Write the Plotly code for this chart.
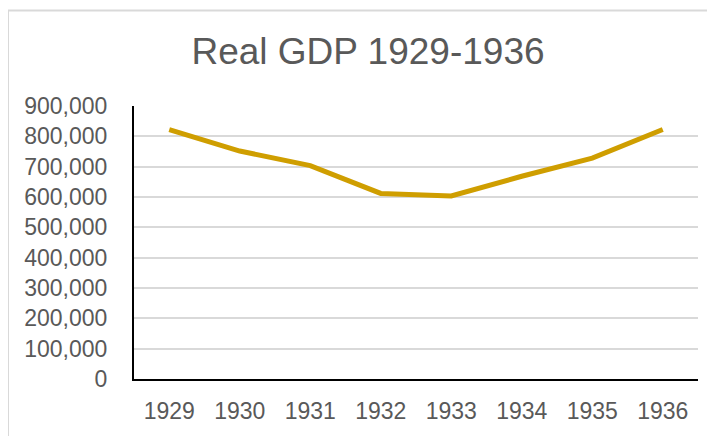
import plotly.graph_objects as go

years = ["1929", "1930", "1931", "1932", "1933", "1934", "1935", "1936"]
real_gdp = [822200, 751500, 703600, 611800, 603300, 668300, 728300, 822400]
y_ticks = [0, 100000, 200000, 300000, 400000, 500000, 600000, 700000, 800000, 900000]

# the page body has an 8px margin: the figure starts at (8, 8)
OX, OY = 8, 8
W, H = 715 - OX, 436 - OY
plot_left, plot_right, plot_top, plot_bottom = 134, 698, 106, 382
L = plot_left - OX
R = (W + OX) - plot_right
T = plot_top - OY
B = (H + OY) - plot_bottom
pw, ph = plot_right - plot_left, plot_bottom - plot_top

def px_x(p):
    return (p - plot_left) / pw

def px_y(p):
    return (plot_bottom - p) / ph

fig = go.Figure()
fig.add_trace(go.Scatter(
    x=years, y=real_gdp, mode="lines",
    line=dict(color="#CF9E00", width=5, shape="linear"),
    hoverinfo="skip", showlegend=False,
))

text_col = "#595959"
fig.update_layout(
    width=W, height=H,
    margin=dict(l=L, r=R, t=T, b=B, pad=0),
    paper_bgcolor="white", plot_bgcolor="white",
    font=dict(family="Liberation Sans, Arial, sans-serif", color=text_col),
    title=dict(text="Real GDP 1929-1936", x=(368 - OX) / W, xanchor="center",
               y=1 - (51 - OY) / H, yanchor="middle",
               font=dict(size=37, color=text_col,
                         family="Liberation Sans, Arial, sans-serif")),
    xaxis=dict(type="category", range=[-0.5, 7.5], showgrid=False,
               showline=True, linecolor="black", linewidth=2,
               ticks="", tickfont=dict(size=23, color=text_col),
               ticklabelstandoff=10, zeroline=False, fixedrange=True),
    yaxis=dict(range=[0, 900000], tickvals=y_ticks, tickformat=",",
               showgrid=True, gridcolor="#D9D9D9", gridwidth=2,
               showline=True, linecolor="black", linewidth=2,
               ticks="", tickfont=dict(size=23, color=text_col),
               ticklabelstandoff=20, zeroline=False, fixedrange=True),
    shapes=[dict(type="rect", xref="paper", yref="paper",
                 x0=px_x(8), x1=px_x(722), y0=px_y(445), y1=px_y(9.5),
                 line=dict(color="#D9D9D9", width=2), fillcolor="rgba(0,0,0,0)",
                 layer="below")],
)

fig.write_html("out.html")
